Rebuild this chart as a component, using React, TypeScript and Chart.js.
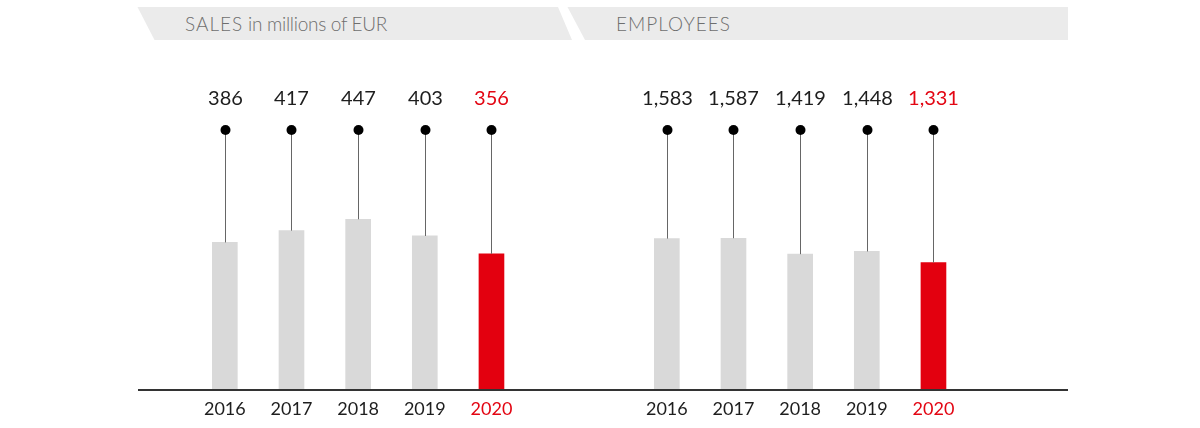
import React, { useEffect, useRef } from "react";
import { Chart, registerables } from "chart.js";

Chart.register(...registerables);

// ---- data ----
const YEARS = ["2016", "2017", "2018", "2019", "2020"];
const SALES = [386, 417, 447, 403, 356];
const EMPLOYEES = [1583, 1587, 1419, 1448, 1331];
const SALES_TITLE = "SALES";
const SALES_SUBTITLE = "in millions of EUR";
const EMPLOYEES_TITLE = "EMPLOYEES";
const SALES_AXIS_MAX = 682;
const EMPLOYEES_AXIS_MAX = 2726;
const HIGHLIGHT_INDEX = 4;

// ---- style ----
const RED = "#e3000f";
const RED_TEXT = "#e30613";
const GRAY_BAR = "#d9d9d9";
const TEXT_DARK = "#1e1e1e";
const FONT = "Lato, 'Open Sans', sans-serif";

const baselinePlugin = {
  id: "baseline",
  afterDatasetsDraw(chart: any) {
    const { ctx, chartArea } = chart;
    ctx.save();
    ctx.fillStyle = "#333333";
    ctx.fillRect(0, chartArea.bottom, chart.width, 2);
    ctx.restore();
  },
};

const lollipopPlugin = {
  id: "lollipop",
  afterDatasetsDraw(chart: any) {
    const { ctx, chartArea } = chart;
    const meta = chart.getDatasetMeta(0);
    const values = chart.data.datasets[0].data as number[];
    const dotY = chartArea.top;
    ctx.save();
    meta.data.forEach((bar: any, i: number) => {
      const x = Math.round(bar.x) + 0.5;
      ctx.strokeStyle = "#666666";
      ctx.lineWidth = 1;
      ctx.beginPath();
      ctx.moveTo(x, dotY);
      ctx.lineTo(x, bar.y);
      ctx.stroke();
      ctx.fillStyle = "#000000";
      ctx.beginPath();
      ctx.arc(x, dotY, 5, 0, Math.PI * 2);
      ctx.fill();
      ctx.fillStyle = i === HIGHLIGHT_INDEX ? RED_TEXT : TEXT_DARK;
      ctx.font = `20px ${FONT}`;
      ctx.textAlign = "center";
      ctx.textBaseline = "middle";
      ctx.fillText(values[i].toLocaleString("en-US"), x, dotY - 31);
    });
    ctx.restore();
  },
};

function BarPanel(props: {
  values: number[];
  max: number;
  left: number;
  padLeft: number;
  padRight: number;
}) {
  const ref = useRef<HTMLCanvasElement>(null);
  useEffect(() => {
    const chart = new Chart(ref.current as HTMLCanvasElement, {
      type: "bar",
      data: {
        labels: YEARS,
        datasets: [
          {
            data: props.values,
            backgroundColor: props.values.map((_, i) =>
              i === HIGHLIGHT_INDEX ? RED : GRAY_BAR
            ),
            borderWidth: 0,
            barThickness: 25,
          },
        ],
      },
      options: {
        responsive: false,
        animation: false,
        layout: {
          padding: { top: 130, left: props.padLeft, right: props.padRight, bottom: 0 },
        },
        plugins: {
          legend: { display: false },
          tooltip: { enabled: false },
        },
        scales: {
          x: {
            grid: { display: false, drawTicks: false },
            border: { display: false },
            ticks: {
              padding: 9,
              font: { family: FONT, size: 18 },
              color: (c: any) => (c.index === HIGHLIGHT_INDEX ? RED_TEXT : TEXT_DARK),
            },
            afterFit: (s: any) => {
              s.height = 39;
            },
          },
          y: { display: false, min: 0, max: props.max },
        },
      } as any,
      plugins: [baselinePlugin, lollipopPlugin],
    });
    return () => chart.destroy();
  }, []);
  return (
    <canvas
      ref={ref}
      width={465}
      height={428}
      style={{ position: "absolute", left: props.left, top: 0, width: 465, height: 428 }}
    />
  );
}

function Banner(props: { points: string; x: number; title: string; subtitle?: string }) {
  return (
    <>
      <svg
        width={1200}
        height={50}
        style={{ position: "absolute", left: 0, top: 0 }}
      >
        <polygon points={props.points} fill="#ebebeb" />
      </svg>
      <div
        style={{
          position: "absolute",
          left: props.x,
          top: 12,
          fontFamily: FONT,
          fontSize: 19,
          fontWeight: 300,
          lineHeight: "24px",
          color: "#6e6e6e",
          whiteSpace: "nowrap",
        }}
      >
        <span style={{ letterSpacing: 1.0 }}>{props.title}</span>
        {props.subtitle ? <span style={{ letterSpacing: -0.3 }}> {props.subtitle}</span> : null}
      </div>
    </>
  );
}

export default function App() {
  return (
    <div
      style={{
        position: "absolute",
        left: 0,
        top: 0,
        width: 1200,
        height: 428,
        background: "#ffffff",
        overflow: "hidden",
      }}
    >
      <Banner
        points="137.5,7 558,7 572,40 154.5,40"
        x={185}
        title={SALES_TITLE}
        subtitle={SALES_SUBTITLE}
      />
      <Banner points="567.5,7 1068,7 1068,40 585,40" x={616} title={EMPLOYEES_TITLE} />
      <BarPanel values={SALES} max={SALES_AXIS_MAX} left={138} padLeft={53.5} padRight={78.2} />
      <BarPanel
        values={EMPLOYEES}
        max={EMPLOYEES_AXIS_MAX}
        left={603}
        padLeft={30.5}
        padRight={101.2}
      />
    </div>
  );
}
